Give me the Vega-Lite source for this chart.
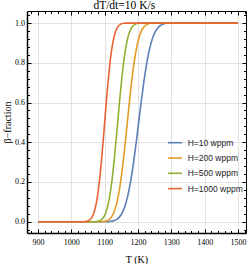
{
  "$schema": "https://vega.github.io/schema/vega-lite/v6.json",
  "width": 219,
  "height": 222,
  "autosize": {"type": "none"},
  "padding": {"left": 27, "top": 11, "right": 4, "bottom": 31},
  "background": "white",
  "config": {"view": {"stroke": null}},
  "title": {"text": "dT/dt=10 K/s", "font": "Liberation Serif", "fontSize": 11.5, "fontWeight": "normal", "color": "black", "offset": -1, "frame": "bounds"},
  "datasets": {
    "curves": [
      {"H": "H=10 wppm", "T": 900, "f": 0},
      {"H": "H=10 wppm", "T": 1100.5, "f": 0},
      {"H": "H=10 wppm", "T": 1115, "f": 0.001},
      {"H": "H=10 wppm", "T": 1129.5, "f": 0.006},
      {"H": "H=10 wppm", "T": 1136.75, "f": 0.012},
      {"H": "H=10 wppm", "T": 1144, "f": 0.023},
      {"H": "H=10 wppm", "T": 1151.25, "f": 0.04},
      {"H": "H=10 wppm", "T": 1158.5, "f": 0.067},
      {"H": "H=10 wppm", "T": 1165.75, "f": 0.106},
      {"H": "H=10 wppm", "T": 1173, "f": 0.159},
      {"H": "H=10 wppm", "T": 1180.25, "f": 0.227},
      {"H": "H=10 wppm", "T": 1187.5, "f": 0.309},
      {"H": "H=10 wppm", "T": 1194.75, "f": 0.401},
      {"H": "H=10 wppm", "T": 1202, "f": 0.5},
      {"H": "H=10 wppm", "T": 1209.25, "f": 0.599},
      {"H": "H=10 wppm", "T": 1216.5, "f": 0.691},
      {"H": "H=10 wppm", "T": 1223.75, "f": 0.773},
      {"H": "H=10 wppm", "T": 1231, "f": 0.841},
      {"H": "H=10 wppm", "T": 1238.25, "f": 0.894},
      {"H": "H=10 wppm", "T": 1245.5, "f": 0.933},
      {"H": "H=10 wppm", "T": 1252.75, "f": 0.96},
      {"H": "H=10 wppm", "T": 1260, "f": 0.977},
      {"H": "H=10 wppm", "T": 1267.25, "f": 0.988},
      {"H": "H=10 wppm", "T": 1274.5, "f": 0.994},
      {"H": "H=10 wppm", "T": 1289, "f": 0.999},
      {"H": "H=10 wppm", "T": 1303.5, "f": 1},
      {"H": "H=10 wppm", "T": 1500, "f": 1},

      {"H": "H=200 wppm", "T": 900, "f": 0},
      {"H": "H=200 wppm", "T": 1084, "f": 0},
      {"H": "H=200 wppm", "T": 1096, "f": 0.001},
      {"H": "H=200 wppm", "T": 1108, "f": 0.006},
      {"H": "H=200 wppm", "T": 1114, "f": 0.012},
      {"H": "H=200 wppm", "T": 1120, "f": 0.023},
      {"H": "H=200 wppm", "T": 1126, "f": 0.04},
      {"H": "H=200 wppm", "T": 1132, "f": 0.067},
      {"H": "H=200 wppm", "T": 1138, "f": 0.106},
      {"H": "H=200 wppm", "T": 1144, "f": 0.159},
      {"H": "H=200 wppm", "T": 1150, "f": 0.227},
      {"H": "H=200 wppm", "T": 1156, "f": 0.309},
      {"H": "H=200 wppm", "T": 1162, "f": 0.401},
      {"H": "H=200 wppm", "T": 1168, "f": 0.5},
      {"H": "H=200 wppm", "T": 1174, "f": 0.599},
      {"H": "H=200 wppm", "T": 1180, "f": 0.691},
      {"H": "H=200 wppm", "T": 1186, "f": 0.773},
      {"H": "H=200 wppm", "T": 1192, "f": 0.841},
      {"H": "H=200 wppm", "T": 1198, "f": 0.894},
      {"H": "H=200 wppm", "T": 1204, "f": 0.933},
      {"H": "H=200 wppm", "T": 1210, "f": 0.96},
      {"H": "H=200 wppm", "T": 1216, "f": 0.977},
      {"H": "H=200 wppm", "T": 1222, "f": 0.988},
      {"H": "H=200 wppm", "T": 1228, "f": 0.994},
      {"H": "H=200 wppm", "T": 1240, "f": 0.999},
      {"H": "H=200 wppm", "T": 1252, "f": 1},
      {"H": "H=200 wppm", "T": 1500, "f": 1},

      {"H": "H=500 wppm", "T": 900, "f": 0},
      {"H": "H=500 wppm", "T": 1065.5, "f": 0},
      {"H": "H=500 wppm", "T": 1076, "f": 0.001},
      {"H": "H=500 wppm", "T": 1086.5, "f": 0.006},
      {"H": "H=500 wppm", "T": 1091.75, "f": 0.012},
      {"H": "H=500 wppm", "T": 1097, "f": 0.023},
      {"H": "H=500 wppm", "T": 1102.25, "f": 0.04},
      {"H": "H=500 wppm", "T": 1107.5, "f": 0.067},
      {"H": "H=500 wppm", "T": 1112.75, "f": 0.106},
      {"H": "H=500 wppm", "T": 1118, "f": 0.159},
      {"H": "H=500 wppm", "T": 1123.25, "f": 0.227},
      {"H": "H=500 wppm", "T": 1128.5, "f": 0.309},
      {"H": "H=500 wppm", "T": 1133.75, "f": 0.401},
      {"H": "H=500 wppm", "T": 1139, "f": 0.5},
      {"H": "H=500 wppm", "T": 1144.25, "f": 0.599},
      {"H": "H=500 wppm", "T": 1149.5, "f": 0.691},
      {"H": "H=500 wppm", "T": 1154.75, "f": 0.773},
      {"H": "H=500 wppm", "T": 1160, "f": 0.841},
      {"H": "H=500 wppm", "T": 1165.25, "f": 0.894},
      {"H": "H=500 wppm", "T": 1170.5, "f": 0.933},
      {"H": "H=500 wppm", "T": 1175.75, "f": 0.96},
      {"H": "H=500 wppm", "T": 1181, "f": 0.977},
      {"H": "H=500 wppm", "T": 1186.25, "f": 0.988},
      {"H": "H=500 wppm", "T": 1191.5, "f": 0.994},
      {"H": "H=500 wppm", "T": 1202, "f": 0.999},
      {"H": "H=500 wppm", "T": 1212.5, "f": 1},
      {"H": "H=500 wppm", "T": 1500, "f": 1},

      {"H": "H=1000 wppm", "T": 900, "f": 0},
      {"H": "H=1000 wppm", "T": 1033.5, "f": 0},
      {"H": "H=1000 wppm", "T": 1043, "f": 0.001},
      {"H": "H=1000 wppm", "T": 1052.5, "f": 0.006},
      {"H": "H=1000 wppm", "T": 1057.25, "f": 0.012},
      {"H": "H=1000 wppm", "T": 1062, "f": 0.023},
      {"H": "H=1000 wppm", "T": 1066.75, "f": 0.04},
      {"H": "H=1000 wppm", "T": 1071.5, "f": 0.067},
      {"H": "H=1000 wppm", "T": 1076.25, "f": 0.106},
      {"H": "H=1000 wppm", "T": 1081, "f": 0.159},
      {"H": "H=1000 wppm", "T": 1085.75, "f": 0.227},
      {"H": "H=1000 wppm", "T": 1090.5, "f": 0.309},
      {"H": "H=1000 wppm", "T": 1095.25, "f": 0.401},
      {"H": "H=1000 wppm", "T": 1100, "f": 0.5},
      {"H": "H=1000 wppm", "T": 1104.75, "f": 0.599},
      {"H": "H=1000 wppm", "T": 1109.5, "f": 0.691},
      {"H": "H=1000 wppm", "T": 1114.25, "f": 0.773},
      {"H": "H=1000 wppm", "T": 1119, "f": 0.841},
      {"H": "H=1000 wppm", "T": 1123.75, "f": 0.894},
      {"H": "H=1000 wppm", "T": 1128.5, "f": 0.933},
      {"H": "H=1000 wppm", "T": 1133.25, "f": 0.96},
      {"H": "H=1000 wppm", "T": 1138, "f": 0.977},
      {"H": "H=1000 wppm", "T": 1142.75, "f": 0.988},
      {"H": "H=1000 wppm", "T": 1147.5, "f": 0.994},
      {"H": "H=1000 wppm", "T": 1157, "f": 0.999},
      {"H": "H=1000 wppm", "T": 1166.5, "f": 1},
      {"H": "H=1000 wppm", "T": 1500, "f": 1}
    ]
  },
  "data": {"name": "curves"},
  "resolve": {"axis": {"x": "independent", "y": "independent"}},
  "layer": [
    {
      "mark": {"type": "line", "interpolate": "monotone", "strokeWidth": 1.6, "clip": true},
      "encoding": {
        "x": {
          "field": "T", "type": "quantitative",
          "scale": {"domain": [867, 1524], "nice": false, "zero": false},
          "axis": {
            "orient": "bottom", "title": "T (K)", "format": "d",
            "values": [900, 1000, 1100, 1200, 1300, 1400, 1500],
            "grid": true, "gridColor": "#e2e2e2", "gridWidth": 1,
            "domain": true, "domainColor": "black", "domainWidth": 1.5,
            "ticks": true, "tickSize": -4, "tickColor": "black", "tickWidth": 1,
            "labelFont": "Liberation Serif", "labelFontSize": 8, "labelColor": "black",
            "labelPadding": 13.3, "labelBaseline": "middle", "labelFlush": false, "labelOverlap": false,
            "titleFont": "Liberation Serif", "titleFontSize": 10, "titleFontWeight": "normal", "titleColor": "black",
            "titleY": 26, "titleBaseline": "middle"
          }
        },
        "y": {
          "field": "f", "type": "quantitative",
          "scale": {"domain": [-0.057, 1.061], "nice": false, "zero": false},
          "axis": {
            "orient": "left", "title": "β−fraction",
            "values": [0, 0.2, 0.4, 0.6, 0.8, 1.0], "format": ".1f",
            "grid": true, "gridColor": "#e2e2e2", "gridWidth": 1,
            "domain": true, "domainColor": "black", "domainWidth": 1.5,
            "ticks": true, "tickSize": -4, "tickColor": "black", "tickWidth": 1,
            "labelFont": "Liberation Serif", "labelFontSize": 8, "labelColor": "black",
            "labelPadding": 6.5, "labelFlush": false, "labelOverlap": false,
            "titleFont": "Liberation Serif", "titleFontSize": 10, "titleFontWeight": "normal", "titleColor": "black",
            "titleX": -20, "titleY": 111, "titleBaseline": "middle"
          }
        },
        "color": {
          "field": "H", "type": "nominal",
          "scale": {"domain": ["H=10 wppm", "H=200 wppm", "H=500 wppm", "H=1000 wppm"], "range": ["#5E81B5", "#E19C24", "#8FB032", "#EB6235"]},
          "legend": {
            "title": null, "orient": "none", "legendX": 140, "legendY": 123.7,
            "symbolType": "stroke", "symbolSize": 196, "symbolStrokeWidth": 1.6,
            "labelFont": "Liberation Sans", "labelFontSize": 8.5, "labelColor": "#222222",
            "labelOffset": 4.7, "rowPadding": 2.3, "padding": 0
          }
        }
      }
    },
    {
      "mark": {"type": "point", "opacity": 0},
      "encoding": {
        "x": {"field": "T", "type": "quantitative", "axis": {"orient": "bottom", "title": null, "labels": false, "domain": false, "grid": false, "tickSize": -2.5, "tickColor": "black", "tickWidth": 1, "minExtent": 0, "maxExtent": 0,
          "values": [880, 920, 940, 960, 980, 1020, 1040, 1060, 1080, 1120, 1140, 1160, 1180, 1220, 1240, 1260, 1280, 1320, 1340, 1360, 1380, 1420, 1440, 1460, 1480, 1520]}},
        "y": {"field": "f", "type": "quantitative", "axis": {"orient": "left", "title": null, "labels": false, "domain": false, "grid": false, "tickSize": -2.5, "tickColor": "black", "tickWidth": 1, "minExtent": 0, "maxExtent": 0,
          "values": [-0.04, 0.04, 0.08, 0.12, 0.16, 0.24, 0.28, 0.32, 0.36, 0.44, 0.48, 0.52, 0.56, 0.64, 0.68, 0.72, 0.76, 0.84, 0.88, 0.92, 0.96, 1.04]}}
      }
    },
    {
      "mark": {"type": "point", "opacity": 0},
      "encoding": {
        "x": {"field": "T", "type": "quantitative", "axis": {"orient": "top", "title": null, "labels": false, "domain": true, "domainColor": "black", "domainWidth": 1, "grid": false, "tickSize": -4, "tickColor": "black", "tickWidth": 1, "minExtent": 0, "maxExtent": 0,
          "values": [900, 1000, 1100, 1200, 1300, 1400, 1500]}},
        "y": {"field": "f", "type": "quantitative", "axis": {"orient": "right", "title": null, "labels": false, "domain": true, "domainColor": "black", "domainWidth": 1, "grid": false, "tickSize": -4, "tickColor": "black", "tickWidth": 1, "minExtent": 0, "maxExtent": 0,
          "values": [0, 0.2, 0.4, 0.6, 0.8, 1.0]}}
      }
    },
    {
      "mark": {"type": "point", "opacity": 0},
      "encoding": {
        "x": {"field": "T", "type": "quantitative", "axis": {"orient": "top", "title": null, "labels": false, "domain": false, "grid": false, "tickSize": -2.5, "tickColor": "black", "tickWidth": 1, "minExtent": 0, "maxExtent": 0,
          "values": [880, 920, 940, 960, 980, 1020, 1040, 1060, 1080, 1120, 1140, 1160, 1180, 1220, 1240, 1260, 1280, 1320, 1340, 1360, 1380, 1420, 1440, 1460, 1480, 1520]}},
        "y": {"field": "f", "type": "quantitative", "axis": {"orient": "right", "title": null, "labels": false, "domain": false, "grid": false, "tickSize": -2.5, "tickColor": "black", "tickWidth": 1, "minExtent": 0, "maxExtent": 0,
          "values": [-0.04, 0.04, 0.08, 0.12, 0.16, 0.24, 0.28, 0.32, 0.36, 0.44, 0.48, 0.52, 0.56, 0.64, 0.68, 0.72, 0.76, 0.84, 0.88, 0.92, 0.96, 1.04]}}
      }
    }
  ]
}
